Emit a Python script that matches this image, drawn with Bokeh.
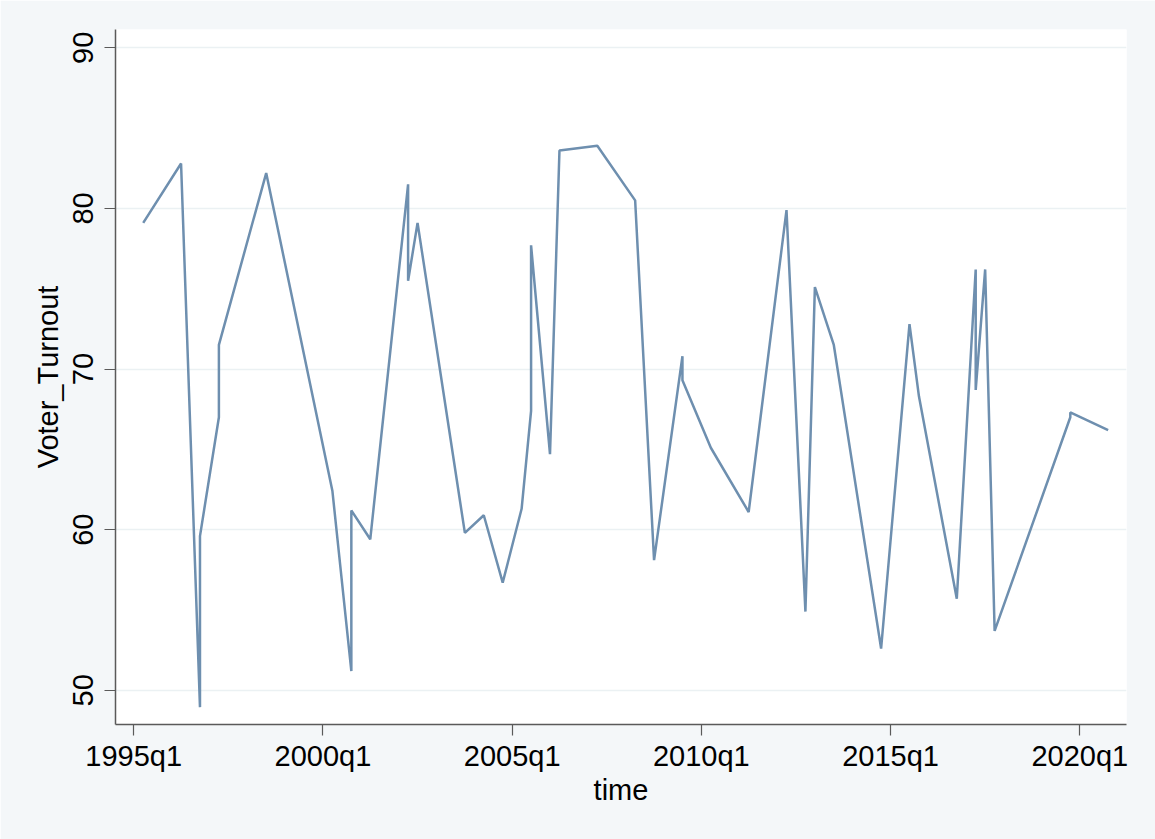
import math
from bokeh.plotting import figure
from bokeh.models import FixedTicker, Range1d
from bokeh.embed import file_html
from bokeh.resources import INLINE

# ---- data ----
times = ["1995q2", "1996q2", "1996q4", "1996q4", "1997q2", "1997q2", "1998q3",
         "2000q2", "2000q4", "2000q4", "2001q2", "2002q2", "2002q2", "2002q3",
         "2003q4", "2004q2", "2004q4", "2005q2", "2005q3", "2005q3", "2006q1",
         "2006q2", "2007q2", "2008q2", "2008q4", "2009q3", "2009q3", "2010q2",
         "2011q2", "2012q2", "2012q4", "2013q1", "2013q3", "2014q4", "2015q3",
         "2015q4", "2016q4", "2017q2", "2017q2", "2017q3", "2017q4", "2019q4",
         "2019q4", "2020q4"]
turnout = [79.1, 82.8, 48.95, 59.6, 67.0, 71.5, 82.2,
           62.4, 51.2, 61.2, 59.4, 81.5, 75.5, 79.1,
           59.8, 60.9, 56.7, 61.3, 67.4, 77.7, 64.7,
           83.6, 83.9, 80.5, 58.1, 70.8, 69.3, 65.1,
           61.1, 79.9, 54.9, 75.1, 71.5, 52.6, 72.8,
           68.3, 55.7, 76.2, 68.7, 76.2, 53.7, 67.0,
           67.3, 66.2]
x_tick_labels = ["1995q1", "2000q1", "2005q1", "2010q1", "2015q1", "2020q1"]
y_ticks = [50, 60, 70, 80, 90]


def qnum(s):
    y, q = s.split("q")
    return (int(y) - 1960) * 4 + int(q) - 1


xs = [qnum(t) for t in times]
x_ticks = [qnum(t) for t in x_tick_labels]

FONT = "Liberation Sans"
BG = "#F4F7F9"
AX = "#5a5a5a"

p = figure(width=1155, height=839, output_backend="svg", toolbar_location=None,
           x_range=Range1d(138.07, 244.94), y_range=Range1d(47.87, 91.14),
           min_border_left=115, min_border_right=29, min_border_top=29,
           min_border_bottom=115)
p.background_fill_color = "white"
p.border_fill_color = BG
p.outline_line_color = None

p.line(xs, turnout, line_color="#6E8FAF", line_width=2.5)

# x axis
p.xaxis.ticker = FixedTicker(ticks=x_ticks)
p.xaxis.major_label_overrides = {v: l for v, l in zip(x_ticks, x_tick_labels)}
p.xaxis.axis_label = "time"
# y axis
p.yaxis.ticker = FixedTicker(ticks=y_ticks)
p.yaxis.axis_label = "Voter_Turnout"
p.yaxis.major_label_orientation = "vertical"

for ax in (p.xaxis, p.yaxis):
    ax.axis_line_color = AX
    ax.axis_line_width = 1.5
    ax.major_tick_line_color = AX
    ax.major_tick_line_width = 1.2
    ax.major_tick_out = 11
    ax.major_tick_in = 0
    ax.minor_tick_line_color = None
    ax.major_label_text_font = FONT
    ax.major_label_text_font_size = "29px"
    ax.major_label_text_color = "black"
    ax.axis_label_text_font = FONT
    ax.axis_label_text_font_size = "29px"
    ax.axis_label_text_font_style = "normal"
    ax.axis_label_text_color = "black"

p.xaxis.major_label_standoff = 4
p.xaxis.axis_label_standoff = -1
p.yaxis.major_label_standoff = 11
p.yaxis.axis_label_standoff = 7

p.xgrid.grid_line_color = None
p.ygrid.ticker = FixedTicker(ticks=y_ticks)
p.ygrid.grid_line_color = "#EBF1F3"
p.ygrid.grid_line_width = 1.5

open("out.html", "w").write(file_html(p, INLINE))
